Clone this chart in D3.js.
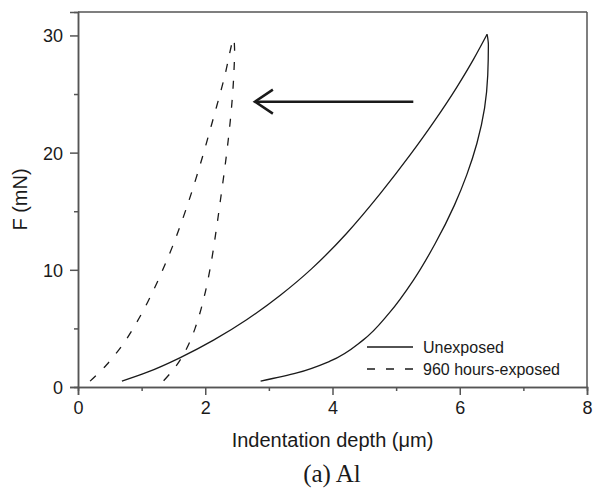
<!DOCTYPE html>
<html>
<head>
<meta charset="utf-8">
<script src="https://cdn.jsdelivr.net/npm/d3@7"></script>
<style>
  body { margin: 0; background: #fff; }
  svg { display: block; font-family: "Liberation Sans", Arial, sans-serif; }
</style>
</head>
<body>
<div id="chart"></div>
<script>
// Axis ticks
const xTicks = [0, 2, 4, 6, 8];
const xMinor = [1, 3, 5, 7];
const yTicks = [0, 10, 20, 30];
const yMinor = [5, 15, 25];

// Unexposed: loading then unloading, [depth (um), force (mN)]
const unexposedLoad = [
  [0.69, 0.5], [1.08, 1.24], [1.60, 2.49], [2.13, 4.0], [2.65, 5.74], [3.18, 7.83],
  [3.67, 10.08], [4.22, 13.1], [4.75, 16.5], [5.22, 19.8], [5.59, 22.6], [5.95, 25.55],
  [6.22, 28.0], [6.43, 30.1]
];
const unexposedUnload = [
  [6.43, 30.1], [6.45, 29.2], [6.44, 26.6], [6.39, 23.8], [6.27, 20.8], [6.11, 18.1],
  [5.915, 15.5], [5.61, 12.2], [5.27, 9.1], [4.89, 6.3], [4.48, 4.0], [3.96, 2.2],
  [3.44, 1.2], [2.87, 0.5]
];

// 960 hours-exposed
const exposedLoad = [
  [0.19, 0.5], [0.45, 1.9], [0.70, 3.6], [0.90, 5.3], [1.10, 7.3], [1.30, 9.6],
  [1.50, 12.2], [1.70, 15.2], [1.90, 18.6], [2.10, 22.4], [2.30, 26.4], [2.445, 29.7]
];
const exposedUnload = [
  [2.445, 29.7], [2.46, 29.0], [2.45, 26.8], [2.42, 24.3], [2.37, 21.5], [2.31, 18.8],
  [2.24, 16.0], [2.17, 13.3], [2.08, 10.2], [1.97, 7.4], [1.84, 5.0], [1.70, 3.2],
  [1.53, 1.7], [1.34, 0.5]
];

const legendLabels = ["Unexposed", "960 hours-exposed"];
// Arrow annotation (from, to) in data units
const arrowFrom = [5.27, 24.35];
const arrowTo = [2.78, 24.35];

const W = 594, H = 488;
const margin = { top: 12, right: 7, bottom: 101, left: 78 };
const width = W - margin.left - margin.right;
const height = H - margin.top - margin.bottom;

const svg = d3.select("#chart").append("svg")
  .attr("width", W)
  .attr("height", H);

const g = svg.append("g")
  .attr("transform", "translate(" + margin.left + "," + margin.top + ")");

const x = d3.scaleLinear().domain([0, 8]).range([0, width]);
const y = d3.scaleLinear().domain([0, 32]).range([height, 0]);

const axisColor = "#555";
const inkColor = "#1a1a1a";

// Frame (top and right)
g.append("line").attr("x1", 0).attr("x2", width).attr("y1", 0).attr("y2", 0)
  .attr("stroke", axisColor).attr("stroke-width", 1.5);
g.append("line").attr("x1", width).attr("x2", width).attr("y1", 0).attr("y2", height)
  .attr("stroke", axisColor).attr("stroke-width", 1.5);

// Minor ticks
const xMinorAxis = g.append("g")
  .attr("transform", "translate(0," + height + ")")
  .call(d3.axisBottom(x).tickValues(xMinor).tickSize(4).tickFormat(""));
const yMinorAxis = g.append("g")
  .call(d3.axisLeft(y).tickValues(yMinor).tickSize(4).tickFormat(""));

// Major axes
const xAxis = g.append("g")
  .attr("transform", "translate(0," + height + ")")
  .call(d3.axisBottom(x).tickValues(xTicks).tickSize(8).tickPadding(6).tickFormat(d3.format("d")));
const yAxis = g.append("g")
  .call(d3.axisLeft(y).tickValues(yTicks).tickSize(8).tickPadding(7).tickFormat(d3.format("d")));

[xMinorAxis, yMinorAxis, xAxis, yAxis].forEach(a => {
  a.select(".domain").attr("stroke", axisColor).attr("stroke-width", 1.5);
  a.selectAll(".tick line").attr("stroke", axisColor).attr("stroke-width", 1.5);
  a.selectAll(".tick text")
    .attr("fill", inkColor)
    .style("font-size", "18px")
    .style("font-family", "Liberation Sans, Arial, sans-serif");
});
yAxis.selectAll(".tick text").attr("dy", "0.36em");

// Curves
const line = d3.line()
  .x(d => x(d[0]))
  .y(d => y(d[1]))
  .curve(d3.curveCatmullRom.alpha(0.5));

const loadLine = d3.line()
  .x(d => x(d[0]))
  .y(d => y(d[1]))
  .curve(d3.curveMonotoneX);

// unloading is monotone in force, so smooth it along y
const unloadLine = d3.line()
  .x(d => x(d[0]))
  .y(d => y(d[1]))
  .curve(d3.curveMonotoneY);

g.append("path")
  .attr("d", loadLine(unexposedLoad))
  .attr("fill", "none")
  .attr("stroke", inkColor)
  .attr("stroke-width", 1.3);

g.append("path")
  .attr("d", unloadLine(unexposedUnload.slice().reverse()))
  .attr("fill", "none")
  .attr("stroke", inkColor)
  .attr("stroke-width", 1.3);

// Dashed curve as one continuous path so dashes run through the peak
g.append("path")
  .attr("d", line(exposedLoad.concat(exposedUnload.slice(1))))
  .attr("fill", "none")
  .attr("stroke", inkColor)
  .attr("stroke-width", 1.3)
  .attr("stroke-dasharray", "8,11");

// Arrow
g.append("line")
  .attr("x1", x(arrowFrom[0])).attr("y1", y(arrowFrom[1]))
  .attr("x2", x(arrowTo[0]) + 1).attr("y2", y(arrowTo[1]))
  .attr("stroke", inkColor)
  .attr("stroke-width", 2.5);
g.append("path")
  .attr("d", "M" + (x(arrowTo[0]) + 18) + "," + (y(arrowTo[1]) - 12) +
    "L" + x(arrowTo[0]) + "," + y(arrowTo[1]) +
    "L" + (x(arrowTo[0]) + 18) + "," + (y(arrowTo[1]) + 12))
  .attr("fill", "none")
  .attr("stroke", inkColor)
  .attr("stroke-width", 2.5);

// Legend
const legend = g.append("g")
  .attr("transform", "translate(" + (367 - margin.left) + "," + (347 - margin.top) + ")");
legendLabels.forEach((label, i) => {
  const row = legend.append("g").attr("transform", "translate(0," + (i * 22) + ")");
  row.append("line")
    .attr("x1", 0).attr("x2", 46).attr("y1", 0).attr("y2", 0)
    .attr("stroke", inkColor)
    .attr("stroke-width", 1.3)
    .attr("stroke-dasharray", i === 1 ? "8,11" : null);
  row.append("text")
    .attr("x", 56)
    .attr("y", 0)
    .attr("dy", "0.35em")
    .attr("fill", inkColor)
    .style("font-size", "16px")
    .text(label);
});

// Axis labels
g.append("text")
  .attr("x", width / 2)
  .attr("y", height + 60)
  .attr("text-anchor", "middle")
  .attr("fill", inkColor)
  .style("font-size", "20px")
  .text("Indentation depth (μm)");

g.append("text")
  .attr("transform", "rotate(-90)")
  .attr("x", -height / 2)
  .attr("y", 27 - margin.left)
  .attr("text-anchor", "middle")
  .attr("fill", inkColor)
  .style("font-size", "20px")
  .text("F (mN)");

// Caption
svg.append("text")
  .attr("x", 332)
  .attr("y", 482)
  .attr("text-anchor", "middle")
  .attr("fill", inkColor)
  .style("font-family", "Liberation Serif, Times New Roman, serif")
  .style("font-size", "25px")
  .text("(a) Al");
</script>
</body>
</html>
